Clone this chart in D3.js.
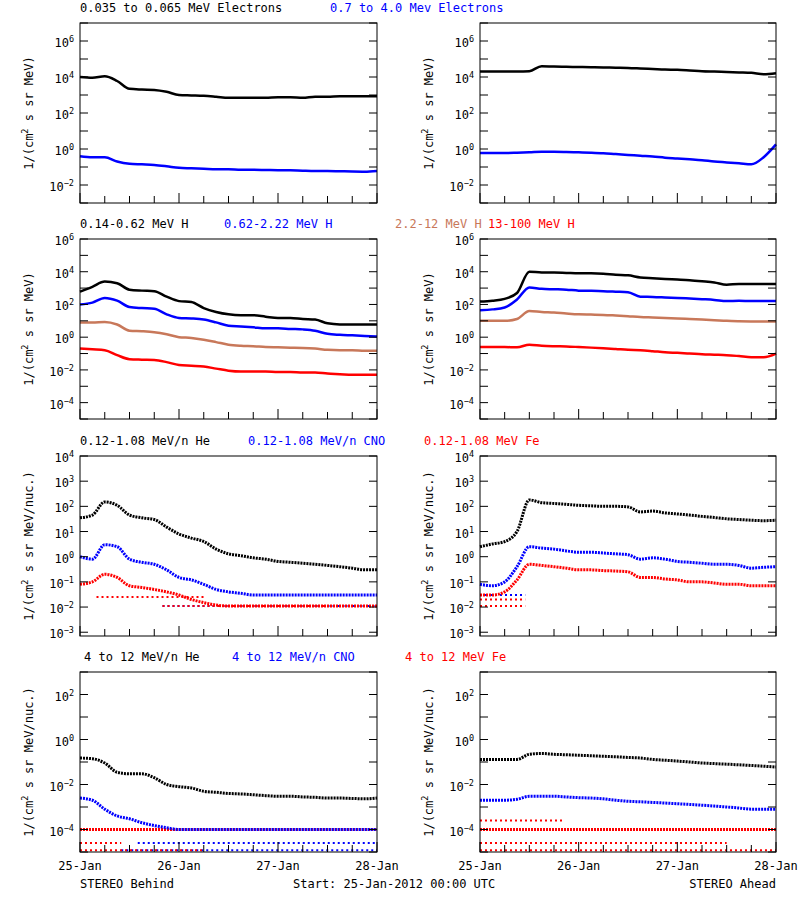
<!DOCTYPE html>
<html><head><meta charset="utf-8">
<script src="https://cdn.jsdelivr.net/npm/d3@7"></script>
<style>body{margin:0;background:#fff}text{font-family:"DejaVu Sans Mono",monospace}</style>
</head><body><svg id="c" width="800" height="900"></svg>
<script>
// hours 0..72, every 3 h
const hours = d3.range(0, 73, 3);
const dayTicks = ["25-Jan","26-Jan","27-Jan","28-Jan"];

// Row 1: electrons
const eLoB = [1e4,9e3,1.1e4,6e3,2.2e3,2.0e3,1.9e3,1.5e3,1.0e3,9.5e2,9e2,8e2,7e2,7e2,7e2,7e2,7.5e2,7.5e2,7e2,8e2,8e2,8.5e2,8.5e2,8.5e2,8.5e2];
const eHiB = [0.4,0.35,0.35,0.2,0.15,0.14,0.13,0.11,0.09,0.085,0.08,0.075,0.075,0.07,0.07,0.068,0.066,0.065,0.062,0.06,0.06,0.058,0.056,0.055,0.06];
const eLoA = [2e4,2e4,2e4,2e4,2.1e4,4e4,3.8e4,3.7e4,3.6e4,3.5e4,3.4e4,3.3e4,3.2e4,3e4,2.8e4,2.6e4,2.5e4,2.3e4,2.1e4,2e4,1.9e4,1.8e4,1.7e4,1.4e4,1.6e4];
const eHiA = [0.6,0.6,0.6,0.62,0.65,0.7,0.7,0.68,0.65,0.62,0.58,0.52,0.47,0.42,0.38,0.33,0.3,0.27,0.24,0.2,0.18,0.16,0.14,0.35,1.8];
// Row 2: protons
const h1B = [6e2,1.2e3,2.5e3,2e3,8e2,7e2,6.5e2,3e2,1.6e2,1.4e2,6e1,3.5e1,2.5e1,2.2e1,2.2e1,1.8e1,1.5e1,1.5e1,1.3e1,1.2e1,7,6,6,6,6];
const h2B = [1e2,1.3e2,2.5e2,1.7e2,7e1,6e1,5.5e1,2.5e1,1.5e1,1.4e1,1.2e1,8,5,4.5,4,3.5,3.5,3.2,3,2.5,1.6,1.4,1.3,1.2,1.1];
const h3B = [8,8,8.5,6,2.5,2.3,2.0,1.5,1.0,0.9,0.7,0.5,0.35,0.3,0.28,0.25,0.24,0.23,0.22,0.2,0.17,0.16,0.16,0.15,0.15];
const h4B = [0.2,0.18,0.16,0.08,0.045,0.042,0.04,0.03,0.02,0.018,0.016,0.012,0.009,0.008,0.008,0.008,0.0075,0.0075,0.007,0.007,0.006,0.0055,0.005,0.005,0.005];
const h1A = [1.5e2,1.7e2,2.2e2,5e2,1e4,9e3,9e3,8.5e3,8e3,8e3,7.5e3,6.5e3,6e3,4.5e3,4e3,3.6e3,3.3e3,3e3,2.6e3,2.2e3,1.6e3,1.8e3,1.8e3,1.8e3,1.8e3];
const h2A = [45,50,65,2e2,1.1e3,9e2,8.5e2,8e2,7e2,6.8e2,6.5e2,6e2,5.5e2,3e2,2.9e2,2.7e2,2.5e2,2.3e2,2.1e2,1.9e2,1.6e2,1.7e2,1.6e2,1.6e2,1.6e2];
const h3A = [10,10,10,13,40,35,32,28,25,24,23,21,19,17,16,15,14,13,12,11,10,9.5,9.2,9,9];
const h4A = [0.25,0.25,0.25,0.24,0.35,0.3,0.28,0.27,0.25,0.23,0.21,0.19,0.17,0.16,0.14,0.12,0.11,0.1,0.09,0.085,0.08,0.07,0.06,0.06,0.1];
// Row 3: low-energy heavy ions
const heLoB = [35,45,150,110,45,35,30,15,8,5.5,4,2,1.3,1.1,0.9,0.8,0.65,0.6,0.55,0.5,0.45,0.4,0.35,0.3,0.3];
const cnoLoB = [1,0.8,3,2.5,0.8,0.6,0.5,0.3,0.15,0.12,0.08,0.05,0.04,0.035,0.03,0.03,0.03,0.03,0.03,0.03,0.03,0.03,0.03,0.03,0.03];
const feLoB = [0.08,0.1,0.2,0.15,0.07,0.06,0.05,0.04,0.03,0.02,0.015,0.012,0.011,0.011,0.011,0.011,0.011,0.011,0.011,0.011,0.011,0.011,0.011,0.011,0.011];
const heLoA = [2.5,3.2,4,10,180,140,130,120,110,105,100,100,95,60,65,55,50,45,40,36,32,30,28,27,28];
const cnoLoA = [0.08,0.07,0.1,0.4,2.5,2.2,2,1.7,1.5,1.5,1.4,1.3,1.2,0.8,0.9,0.8,0.65,0.6,0.55,0.5,0.5,0.45,0.35,0.38,0.4];
const feLoA = [0.03,0.03,0.04,0.12,0.5,0.45,0.4,0.35,0.3,0.3,0.28,0.27,0.25,0.15,0.15,0.13,0.12,0.1,0.1,0.09,0.08,0.08,0.07,0.07,0.07];
// Row 4: high-energy heavy ions
const heHiB = [0.15,0.14,0.09,0.035,0.03,0.03,0.02,0.01,0.008,0.007,0.005,0.0045,0.004,0.0038,0.0035,0.0032,0.003,0.003,0.0028,0.0027,0.0025,0.0025,0.0024,0.0023,0.0025];
const cnoHiB = [0.0025,0.002,0.0008,0.0004,0.0003,0.0002,0.00015,0.00012,0.0001,0.0001,0.0001,0.0001,0.0001,0.0001,0.0001,0.0001,0.0001,0.0001,0.0001,0.0001,0.0001,0.0001,0.0001,0.0001,0.0001];
const feHiB = [0.0001,0.0001,0.0001,0.0001,0.0001,0.0001,0.0001,0.0001,0.0001,0.0001,0.0001,0.0001,0.0001,0.0001,0.0001,0.0001,0.0001,0.0001,0.0001,0.0001,0.0001,0.0001,0.0001,0.0001,0.0001];
const heHiA = [0.13,0.13,0.13,0.13,0.22,0.24,0.22,0.21,0.2,0.19,0.18,0.17,0.16,0.15,0.13,0.12,0.11,0.1,0.09,0.085,0.08,0.075,0.07,0.065,0.06];
const cnoHiA = [0.002,0.002,0.002,0.0022,0.003,0.003,0.003,0.0028,0.0026,0.0025,0.0023,0.002,0.0018,0.0017,0.0016,0.0015,0.0014,0.0013,0.0012,0.0011,0.001,0.0009,0.0008,0.0008,0.0008];
const feHiA = [0.0001,0.0001,0.0001,0.0001,0.0001,0.0001,0.0001,0.0001,0.0001,0.0001,0.0001,0.0001,0.0001,0.0001,0.0001,0.0001,0.0001,0.0001,0.0001,0.0001,0.0001,0.0001,0.0001,0.0001,0.0001];
// one-count floor levels [level, colour-key, startHour, endHour]
const floorsB3 = [[0.011,"b",20,72],[0.011,"r",20,60],[0.025,"r",4,30]];
const floorsA3 = [[0.011,"r",0,11],[0.02,"r",0,11],[0.03,"b",0,11]];
const floorsB4 = [[1.2e-5,"b",10,72],[1.2e-5,"r",0,30],[2.5e-5,"r",0,10],[2.5e-5,"b",14,72]];
const floorsA4 = [[1.2e-5,"r",0,72],[2.5e-5,"r",0,60],[2.5e-4,"r",0,20]];

const titles1 = [["0.035 to 0.065 MeV Electrons","k",80],["0.7 to 4.0 Mev Electrons","b",330]];
const titles2 = [["0.14-0.62 MeV H","k",80],["0.62-2.22 MeV H","b",224],["2.2-12 MeV H","s",395],["13-100 MeV H","r",488]];
const titles3 = [["0.12-1.08 MeV/n He","k",80],["0.12-1.08 MeV/n CNO","b",248],["0.12-1.08 MeV Fe","r",424]];
const titles4 = [["4 to 12 MeV/n He","k",84],["4 to 12 MeV/n CNO","b",232],["4 to 12 MeV Fe","r",405]];

const col = {k:"#000000", b:"#0000ff", s:"#c8785a", r:"#ff0000"};
const svg = d3.select("#c");
const cols = [[80,377],[480,776]];

const rows = [
 {top:23, bot:203, dom:[1e-3,1e7], lab:[-2,0,2,4,6], tk:d3.range(-3,8), ylab:"1/(cm² s sr MeV)", titles:titles1,
  series:[[ [eLoB,"k"],[eHiB,"b"] ], [ [eLoA,"k"],[eHiA,"b"] ]], dots:false},
 {top:239, bot:419, dom:[1e-5,1e6], lab:[-4,-2,0,2,4,6], tk:d3.range(-5,7), ylab:"1/(cm² s sr MeV)", titles:titles2,
  series:[[ [h1B,"k"],[h2B,"b"],[h3B,"s"],[h4B,"r"] ], [ [h1A,"k"],[h2A,"b"],[h3A,"s"],[h4A,"r"] ]], dots:false},
 {top:456, bot:636, dom:[Math.pow(10,-3.15),1e4], lab:[-3,-2,-1,0,1,2,3,4], tk:d3.range(-3,5), ylab:"1/(cm² s sr MeV/nuc.)", titles:titles3,
  series:[[ [feLoB,"r"],[cnoLoB,"b"],[heLoB,"k"] ], [ [feLoA,"r"],[cnoLoA,"b"],[heLoA,"k"] ]], floors:[floorsB3,floorsA3], dots:true},
 {top:672, bot:852, dom:[1e-5,1e3], lab:[-4,-2,0,2], tk:d3.range(-5,4), ylab:"1/(cm² s sr MeV/nuc.)", titles:titles4,
  series:[[ [feHiB,"r"],[cnoHiB,"b"],[heHiB,"k"] ], [ [feHiA,"r"],[cnoHiA,"b"],[heHiA,"k"] ]], floors:[floorsB4,floorsA4], dots:true}
];

function sup(t, base, e){
  t.text(null);
  t.append("tspan").text(base);
  t.append("tspan").attr("dy",-5).attr("font-size",8.5).text(e);
}

rows.forEach((r, ri) => {
  r.titles.forEach(([s,c,x]) => svg.append("text").attr("x",x).attr("y",r.top-11).attr("font-size",12).attr("fill",col[c]).text(s));
  cols.forEach(([x0,x1], ci) => {
    const x = d3.scaleLinear().domain([0,72]).range([x0,x1]);
    const y = d3.scaleLog().domain(r.dom).range([r.bot,r.top]);
    const g = svg.append("g");
    if (r.floors) r.floors[ci].forEach(([lv,c,h0,h1]) => {
      g.append("line").attr("x1",x(h0)).attr("x2",x(h1)).attr("y1",y(lv)).attr("y2",y(lv))
       .attr("stroke",col[c]).attr("stroke-width",2).attr("stroke-dasharray","2,3");
    });
    r.series[ci].forEach(([vals,c]) => {
      const line = d3.line().x((d,i)=>x(hours[i])).y(d=>y(d)).curve(d3.curveMonotoneX);
      g.append("path").attr("d",line(vals)).attr("fill","none").attr("stroke",col[c])
       .attr("stroke-width", r.dots?3:2.5).attr("stroke-dasharray", r.dots?"2,1":null);
    });
    g.append("rect").attr("x",x0).attr("y",r.top).attr("width",x1-x0).attr("height",r.bot-r.top).attr("fill","none").attr("stroke","#000").attr("stroke-width",1);
    r.tk.forEach(e => {
      const yy = y(Math.pow(10,e));
      if (yy < r.top-0.5 || yy > r.bot+0.5) return;
      g.append("line").attr("x1",x0).attr("x2",x0+8).attr("y1",yy).attr("y2",yy).attr("stroke","#000");
      g.append("line").attr("x1",x1-8).attr("x2",x1).attr("y1",yy).attr("y2",yy).attr("stroke","#000");
    });
    r.lab.forEach(e => {
      const yy = y(Math.pow(10,e));
      const t = g.append("text").attr("x",x0-6).attr("y",yy+6).attr("font-size",12).attr("text-anchor","end");
      sup(t,"10",String(e).replace("-","−"));
    });
    d3.range(0,73,6).forEach(h => {
      const len = h%24===0 ? 10 : 7;
      g.append("line").attr("x1",x(h)).attr("x2",x(h)).attr("y1",r.bot).attr("y2",r.bot-len).attr("stroke","#000");
    });
    if (ri===3) dayTicks.forEach((d,i) => g.append("text").attr("x",x(i*24)).attr("y",r.bot+18).attr("font-size",12).attr("text-anchor","middle").text(d));
    const cy = (r.top+r.bot)/2, lx = x0-47;
    const yl = g.append("text").attr("transform",`translate(${lx},${cy}) rotate(-90)`).attr("font-size",12).attr("text-anchor","middle");
    const parts = r.ylab.split("²");
    yl.append("tspan").text(parts[0]);
    yl.append("tspan").attr("dy",-5).attr("font-size",8.5).text("2");
    yl.append("tspan").attr("dy",5).text(parts[1]);
  });
});
svg.append("text").attr("x",80).attr("y",888).attr("font-size",12).text("STEREO Behind");
svg.append("text").attr("x",293).attr("y",888).attr("font-size",12).text("Start: 25-Jan-2012 00:00 UTC");
svg.append("text").attr("x",776).attr("y",888).attr("font-size",12).attr("text-anchor","end").text("STEREO Ahead");
</script></body></html>
